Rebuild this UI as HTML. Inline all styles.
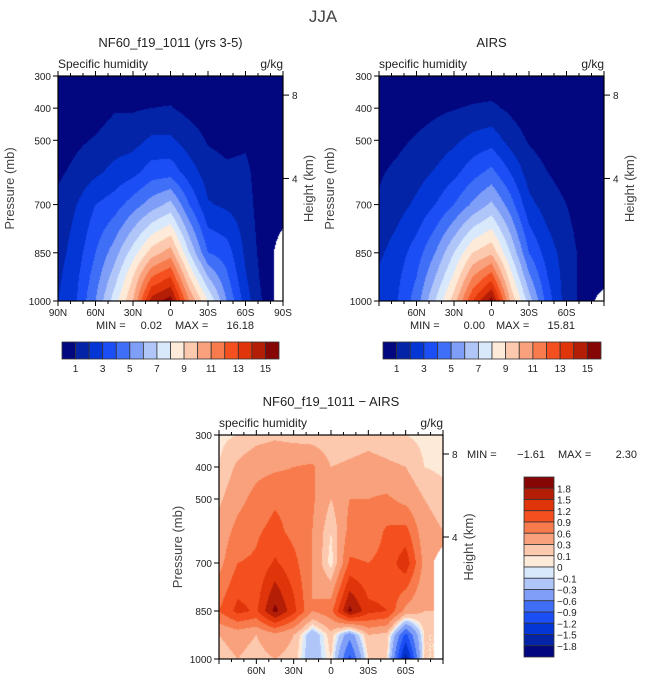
<!DOCTYPE html>
<html><head><meta charset="utf-8"><style>
body{margin:0;background:#fff;width:647px;height:684px;overflow:hidden;position:relative;font-family:"Liberation Sans",sans-serif}
canvas{position:absolute}
svg{position:absolute;left:0;top:0}
</style></head><body>
<canvas id="c1" width="225" height="225" style="left:58px;top:76px"></canvas>
<canvas id="c2" width="225" height="225" style="left:379px;top:76px"></canvas>
<canvas id="c3" width="224" height="224" style="left:219px;top:435px"></canvas>
<svg id="ov" width="647" height="684"></svg>
<script>
const lats=[90,75,60,45,30,15,0,-15,-30,-45,-60,-75,-90];
const levs=[300,400,500,600,700,850,925,1000];
const modelQ=[
[0.3,0.3,0.3,0.35,0.4,0.45,0.5,0.4,0.3,0.3,0.3,0.2,0.2],
[0.1,0.3,0.5,0.9,0.9,1.0,1.05,0.7,0.5,0.4,0.3,0.2,0.1],
[0.4,0.8,1.1,1.5,1.6,2.2,2.2,1.5,0.9,0.7,0.8,0.3,0.2],
[0.8,1.3,1.8,2.3,2.7,3.5,3.6,2.5,1.5,1.2,1.3,0.2,0.2],
[1.3,2.0,3.0,3.5,4.5,5.5,6.3,4.0,2.1,1.8,1.5,0.3,0.2],
[1.6,2.5,4.0,5.5,7.5,9.5,10.5,7.0,4.0,3.5,1.8,0.5,null],
[1.8,2.8,4.5,6.5,9.0,12.0,13,9.0,6.0,4.2,2.1,0.6,null],
[2.0,3.0,5.0,7.5,10,14.5,15.5,11,8.0,5.0,2.5,0.8,null]];
const airsQ=[
[0.1,0.15,0.2,0.25,0.3,0.3,0.3,0.25,0.2,0.15,0.1,0.1,0.1],
[0.3,0.4,0.6,0.8,0.95,1.1,1.2,0.8,0.4,0.3,0.2,0.1,0.1],
[0.6,0.8,1.1,1.4,1.8,2.3,2.6,1.6,0.9,0.6,0.4,0.2,0.1],
[0.9,1.2,1.6,2.1,2.7,3.6,4.3,3.0,1.5,1.0,0.6,0.3,0.2],
[1.1,1.6,2.2,3.0,4.0,5.2,6.2,4.5,2.3,1.5,1.0,0.4,0.2],
[1.8,2.5,3.5,5.0,7.0,9.0,9.8,7.0,4.0,2.5,1.5,0.6,0.3],
[2.2,2.8,4.0,6.0,8.2,11,12.5,8.5,5.2,3.0,1.5,0.6,0.3],
[2.5,3.0,4.5,7.0,9.5,13,15.5,10,6.5,3.5,1.5,0.6,null]];
const diffQ=[
[0.05,0.1,0.2,0.25,0.2,0.15,0.1,0.15,0.2,0.15,0.1,0.05,0.05],
[0.1,0.35,0.5,0.55,0.6,0.65,0.3,0.35,0.4,0.35,0.3,0.1,0.05],
[0.25,0.5,0.7,0.85,0.8,0.65,0.3,0.6,0.6,0.65,0.5,0.3,0.2],
[0.4,0.7,0.85,1.0,0.8,0.6,0.1,0.7,0.7,0.95,1.0,0.4,0.3],
[0.5,0.9,0.95,1.25,1.0,0.6,0.0,0.95,0.9,1.0,1.4,0.5,null],
[0.9,1.3,1.15,1.9,1.3,0.6,0.8,1.9,1.3,1.2,0.5,0.3,null],
[0.3,0.4,0.3,0.5,0.3,-0.3,0.2,-0.5,0.3,0.2,-1.0,0.1,null],
[0.2,0.3,0.2,0.3,0.2,-0.3,0.1,-1.0,0.1,0.1,-1.7,0.1,null]];
const qBounds=[1,2,3,4,5,6,7,8,9,10,11,12,13,14,15];
const qLabels=["1","3","5","7","9","11","13","15"];
const dBounds=[-1.8,-1.5,-1.2,-0.9,-0.6,-0.3,-0.1,0,0.1,0.3,0.6,0.9,1.2,1.5,1.8];
const dLabels=["-1.8","-1.5","-1.2","-0.9","-0.6","-0.3","-0.1","0","0.1","0.3","0.6","0.9","1.2","1.5","1.8"];
const pal=['#02067f','#0424a8','#0436d6','#1c4ef5','#3f6ef7','#7f9ef7','#b0c6f9','#d9e9fc','#feead8','#fcc9ae','#f9a17c','#f77b4c','#f4501f','#e0350a','#b51e06','#860605'];
const latTicks=["90N","60N","30N","0","30S","60S","90S"];
const latTickVals=[90,60,30,0,-30,-60,-90];
const presTicks=[300,400,500,700,850,1000];

function render(id,data,bounds){
  const cv=document.getElementById(id),ctx=cv.getContext('2d'),W=cv.width,H=cv.height;
  const img=ctx.createImageData(W,H);
  for(let py=0;py<H;py++){
    const p=300+700*(py+0.5)/H;
    let j=0;while(j<levs.length-2&&levs[j+1]<p)j++;
    const fy=(p-levs[j])/(levs[j+1]-levs[j]);
    for(let px=0;px<W;px++){
      const lat=90-180*(px+0.5)/W;
      let i=Math.min(11,Math.floor((90-lat)/15));
      const fx=(90-lat-i*15)/15;
      const c=[[data[j][i],(1-fx)*(1-fy)],[data[j][i+1],fx*(1-fy)],[data[j+1][i],(1-fx)*fy],[data[j+1][i+1],fx*fy]];
      let s=0,w=0,nw=0;
      for(const [v,wt] of c){if(v===null)nw+=wt;else{s+=v*wt;w+=wt;}}
      const k=(py*W+px)*4;
      let col;
      if(nw>0.5){col=[255,255,255];}
      else{const v=s/w;let b=0;while(b<bounds.length&&v>=bounds[b])b++;
        const h=pal[b];col=[parseInt(h.substr(1,2),16),parseInt(h.substr(3,2),16),parseInt(h.substr(5,2),16)];}
      img.data[k]=col[0];img.data[k+1]=col[1];img.data[k+2]=col[2];img.data[k+3]=255;
    }
  }
  ctx.putImageData(img,0,0);
}
render('c1',modelQ,qBounds);render('c2',airsQ,qBounds);render('c3',diffQ,dBounds);

const ov=document.getElementById('ov');const NS='http://www.w3.org/2000/svg';
function el(tag,attrs,txt,name){const e=document.createElementNS(NS,tag);for(const a in attrs)e.setAttribute(a,attrs[a]);if(txt!==undefined)e.textContent=txt;


ov.appendChild(e);return e;}
function txt(x,y,s,size,anchor,name,extra){const a={x:x,y:y,'font-size':size,'text-anchor':anchor||'start',fill:'#222','font-family':'Liberation Sans, sans-serif'};Object.assign(a,extra||{});return el('text',a,s,name);}

function panel(x0,y0,W,H,opt){
  el('rect',{x:x0,y:y0,width:W,height:H,fill:'none',stroke:'#000','stroke-width':1.2},undefined,'plot-frame');
  const xs=lat=>x0+(90-lat)/180*W, ys=p=>y0+(p-300)/700*H;
  for(let k=0;k<latTickVals.length;k++){const lv=latTickVals[k],x=xs(lv);
    el('line',{x1:x,y1:y0+H,x2:x,y2:y0+H+5,stroke:'#000'},undefined,'x-tick');
    el('line',{x1:x,y1:y0,x2:x,y2:y0-5,stroke:'#000'},undefined,'x-tick-top');
    if(opt.full||(lv!==90&&lv!==-90))txt(x,y0+H+15,latTicks[k],10,'middle','x-tick-label');}
  for(let lv=80;lv>-90;lv-=10){if(lv%30===0)continue;const x=xs(lv);
    el('line',{x1:x,y1:y0+H,x2:x,y2:y0+H+3,stroke:'#000'},undefined,'x-minor-tick');
    el('line',{x1:x,y1:y0,x2:x,y2:y0-3,stroke:'#000'},undefined,'x-minor-tick-top');}
  for(const p of presTicks){const y=ys(p);
    el('line',{x1:x0-5,y1:y,x2:x0,y2:y,stroke:'#000'},undefined,'y-tick');
    txt(x0-7,y+4,String(p),10,'end','y-tick-label');}
  for(const [h,y] of [[8,y0+19*H/224],[4,y0+102*H/224]]){
    el('line',{x1:x0+W,y1:y,x2:x0+W+6,y2:y,stroke:'#000'},undefined,'height-tick');
    txt(x0+W+9,y+4,String(h),10,'start','height-tick-label');}
  txt(x0+W+30,y0+H/2,'Height (km)',13,'middle','height-axis-title',{transform:`rotate(-90 ${x0+W+30} ${y0+H/2})`,fill:'#444'});
  txt(opt.px,y0+H/2,'Pressure (mb)',13,'middle','y-axis-title',{transform:`rotate(-90 ${opt.px} ${y0+H/2})`,fill:'#444'});
  txt(x0,y0-8,opt.sub,12,'start','variable-label');
  txt(x0+W,y0-8,'g/kg',12,'end','units-label');
  txt(x0+W/2,y0-29,opt.title,13,'middle','panel-title');
}
function hbar(x0,y0,W,H,bounds,labels,step){
  const n=bounds.length+1,w=W/n;
  for(let i=0;i<n;i++)el('rect',{x:x0+i*w,y:y0,width:w,height:H,fill:pal[i],stroke:'#333','stroke-width':0.8},undefined,'colorbar-box');
  for(let i=0;i<labels.length;i++)txt(x0+(i*step+1)*w,y0+H+13,labels[i],10,'middle','colorbar-label');
}
txt(323,22,'JJA',17,'middle','figure-title',{fill:'#444'});
panel(58,76,225,225,{full:true,title:'NF60_f19_1011 (yrs 3-5)',sub:'Specific humidity',px:14});
panel(379,76,225,225,{full:false,title:'AIRS',sub:'specific humidity',px:334});
panel(219,435,224,224,{full:false,title:'NF60_f19_1011 \u2212 AIRS',sub:'specific humidity',px:182});
txt(96,329,'MIN =',11,'start','min-label');txt(162,329,'0.02',11,'end','min-value');
txt(175,329,'MAX =',11,'start','max-label');txt(254,329,'16.18',11,'end','max-value');
txt(410,329,'MIN =',11,'start','min-label');txt(485,329,'0.00',11,'end','min-value');
txt(496,329,'MAX =',11,'start','max-label');txt(575,329,'15.81',11,'end','max-value');
txt(467,458,'MIN =',11,'start','min-label');txt(545,458,'\u22121.61',11,'end','min-value');
txt(558,458,'MAX =',11,'start','max-label');txt(637,458,'2.30',11,'end','max-value');
hbar(62,342,217,17,qBounds,qLabels,2);
hbar(383,342,218,17,qBounds,qLabels,2);
(function(){const x0=524,y0=477,W=30,H=180,n=16,h=H/n;
  for(let i=0;i<n;i++)el('rect',{x:x0,y:y0+i*h,width:W,height:h,fill:pal[n-1-i],stroke:'#333','stroke-width':0.8},undefined,'colorbar-box');
  for(let i=0;i<dLabels.length;i++){const y=y0+(15-i)*h;txt(x0+W+3,y+4,dLabels[i].replace('-','\u2212'),10,'start','colorbar-label');}
})();
</script>
</body></html>
